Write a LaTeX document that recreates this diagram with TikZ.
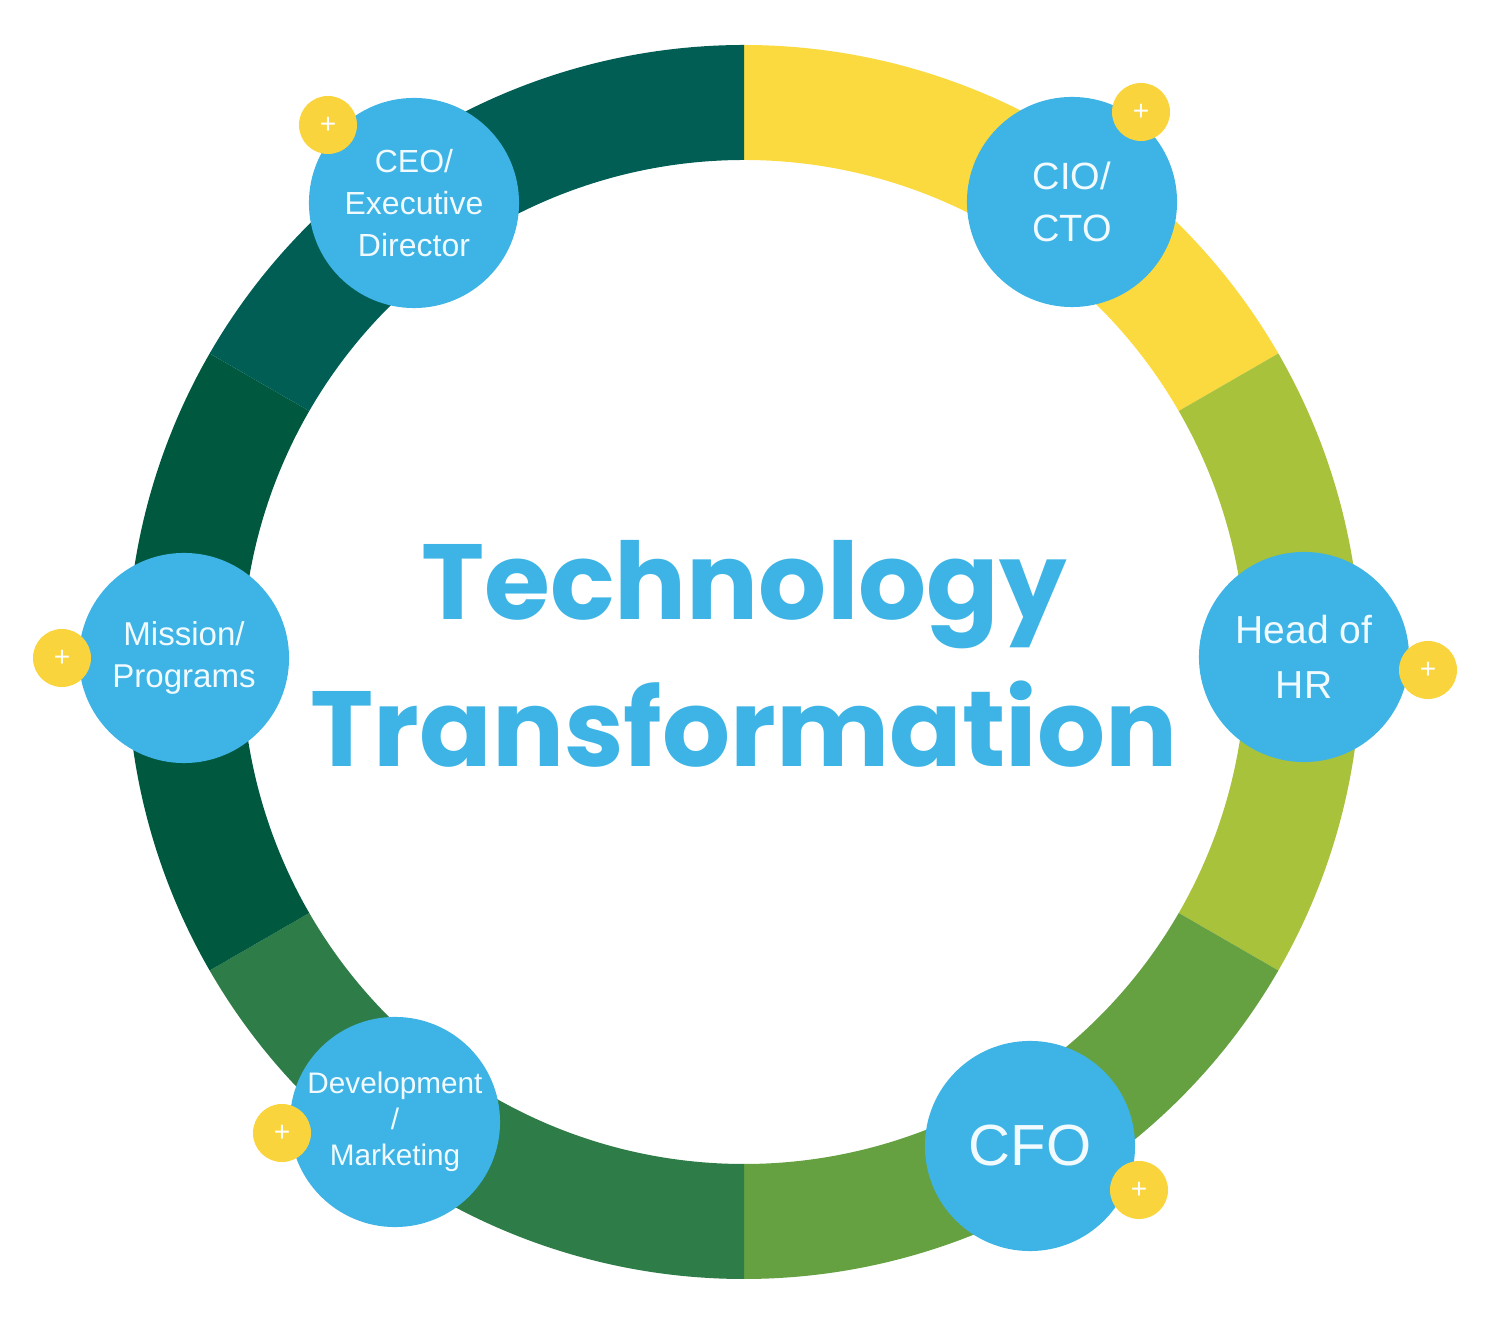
\documentclass[tikz,border=0pt]{standalone}
\usepackage{fontspec}
\setmainfont{Liberation Sans}
\newfontfamily\titlefont{Poppins}
\definecolor{segyellow}{HTML}{FADA3F}
\definecolor{segolive}{HTML}{A9C23B}
\definecolor{segmid}{HTML}{66A141}
\definecolor{segdark}{HTML}{2E7C47}
\definecolor{segdeep}{HTML}{00593F}
\definecolor{segteal}{HTML}{005E55}
\definecolor{hubblue}{HTML}{3DB4E5}
\definecolor{hubtext}{HTML}{F0FAFF}
\definecolor{plusyellow}{HTML}{F9D43C}
\tikzset{hub/.style = {circle, fill=hubblue, text=hubtext, minimum size=2.1cm, inner sep=0pt, align=center},
         pl/.style  = {circle, fill=plusyellow, text=white, minimum size=0.58cm, inner sep=0pt, font=\fontsize{8}{8}\selectfont},
         ttl/.style = {text=hubblue, anchor=base, inner sep=0pt, font=\titlefont\bfseries\fontsize{30.4}{36}\selectfont}}

\begin{document}
\begin{tikzpicture}[x=0.01cm, y=0.01cm]
    \useasboundingbox (-744,-663) rectangle (756,662);
    % ring
    \fill[segyellow] (90:617) arc[start angle=90, end angle=30, radius=617] -- (30:502) arc[start angle=30, end angle=90, radius=502] -- cycle;
    \fill[segolive] (30:617) arc[start angle=30, end angle=-30, radius=617] -- (-30:502) arc[start angle=-30, end angle=30, radius=502] -- cycle;
    \fill[segmid] (-30:617) arc[start angle=-30, end angle=-90, radius=617] -- (-90:502) arc[start angle=-90, end angle=-30, radius=502] -- cycle;
    \fill[segdark] (-90:617) arc[start angle=-90, end angle=-150, radius=617] -- (-150:502) arc[start angle=-150, end angle=-90, radius=502] -- cycle;
    \fill[segdeep] (210:617) arc[start angle=210, end angle=150, radius=617] -- (150:502) arc[start angle=150, end angle=210, radius=502] -- cycle;
    \fill[segteal] (150:617) arc[start angle=150, end angle=90, radius=617] -- (90:502) arc[start angle=90, end angle=150, radius=502] -- cycle;
    % title
    \node[ttl] (tech)  at (0,42)   {Technology};
    \node[ttl] (trans) at (0,-105) {Transformation};
    % roles
    \node[hub, font=\fontsize{9.1}{12}\selectfont]   (ceo) at (-330,459) {CEO/\\Executive\\Director};
    \node[hub, font=\fontsize{10.8}{14.8}\selectfont] (cio) at (328,460)  {CIO/\\CTO};
    \node[hub, font=\fontsize{11.1}{15.6}\selectfont] (hr)  at (560,5)    {Head of\\HR};
    \node[hub, font=\fontsize{16.5}{18}\selectfont]   (cfo) at (286,-484) {CFO};
    \node[hub, font=\fontsize{8.45}{10.2}\selectfont] (dev) at (-349,-460) {Development\\/\\Marketing};
    \node[hub, font=\fontsize{9.4}{12.2}\selectfont]  (mis) at (-560,4)   {Mission/\\Programs};
    % plus buttons
    \node[pl] (ceop) at (-416,537) {+};
    \node[pl] (ciop) at (397,550)  {+};
    \node[pl] (hrp)  at (684,-8)   {+};
    \node[pl] (cfop) at (395,-528) {+};
    \node[pl] (devp) at (-462,-471) {+};
    \node[pl] (misp) at (-682,4)   {+};
\end{tikzpicture}
\end{document}
